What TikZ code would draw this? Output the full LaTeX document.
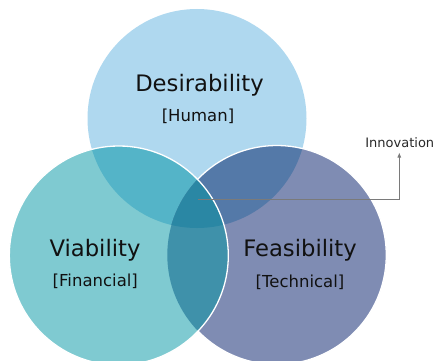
\documentclass[tikz,border=0pt]{standalone}
\usepackage{fontspec}
\setmainfont{DejaVu Sans}
\usetikzlibrary{arrows.meta}
\definecolor{cTop}{HTML}{AFD8EF}
\definecolor{cLeft}{HTML}{7FCAD1}
\definecolor{cRight}{HTML}{7F8CB3}
\definecolor{cTL}{HTML}{54B4C8}
\definecolor{cTR}{HTML}{5479A8}
\definecolor{cTLR}{HTML}{2A87A4}
\definecolor{cLR}{HTML}{3F91AA}
\definecolor{cText}{HTML}{111111}
\definecolor{cLine}{HTML}{7A7A7A}
\tikzset{
  bigtitle/.style={anchor=base, text=cText, inner sep=0pt, font=\fontsize{22.7}{27}\selectfont},
  subtitle/.style={anchor=base, text=cText, inner sep=0pt, font=\fontsize{16.5}{20}\selectfont},
  smalllabel/.style={anchor=base, text=cText!90, inner sep=0pt, font=\fontsize{13}{15}\selectfont},
  ring/.style={draw=white, line width=1.3pt},
  leader/.style={draw=cLine, line width=0.8pt, -{Latex[length=5pt,width=4pt]}}
}
\begin{document}
\begin{tikzpicture}[x=1pt,y=-1pt]
\useasboundingbox (0,0) rectangle (436,361);
\clip (0,0) rectangle (436,361);
\def\R{109.5}
\coordinate (T) at (197,118.5);
\coordinate (L) at (118.8,255.5);
\coordinate (Rt) at (276.8,255);
% single circles
\fill[cTop] (T) circle (\R);
\fill[cRight] (Rt) circle (\R);
\fill[cLeft] (L) circle (\R);
% pairwise overlaps
\begin{scope}\clip (T) circle (\R); \fill[cTL] (L) circle (\R); \end{scope}
\begin{scope}\clip (T) circle (\R); \fill[cTR] (Rt) circle (\R); \end{scope}
\begin{scope}\clip (L) circle (\R); \fill[cLR] (Rt) circle (\R); \end{scope}
% triple overlap
\begin{scope}\clip (T) circle (\R); \clip (L) circle (\R); \fill[cTLR] (Rt) circle (\R); \end{scope}
% white rims
\draw[ring] (Rt) ++(-136.2:\R) arc[start angle=-136.2, end angle=136.2, radius=\R];
\draw[ring] (L) circle (\R);
% labels
\node[bigtitle] (des) at (199.5,91.7) {Desirability};
\node[subtitle] (hum) at (198,121.7) {[Human]};
\node[bigtitle] (via) at (95,256.5) {Viability};
\node[subtitle] (fin) at (95.3,286.7) {[Financial]};
\node[bigtitle] (fea) at (300,256) {Feasibility};
\node[subtitle] (tec) at (300,287) {[Technical]};
\node[smalllabel] (inn) at (399.8,147.3) {Innovation};
% leader
\coordinate (start) at (198,199);
\coordinate (tip) at (399.3,152.5);
\draw[leader] (start) -| (tip);
\end{tikzpicture}
\end{document}
